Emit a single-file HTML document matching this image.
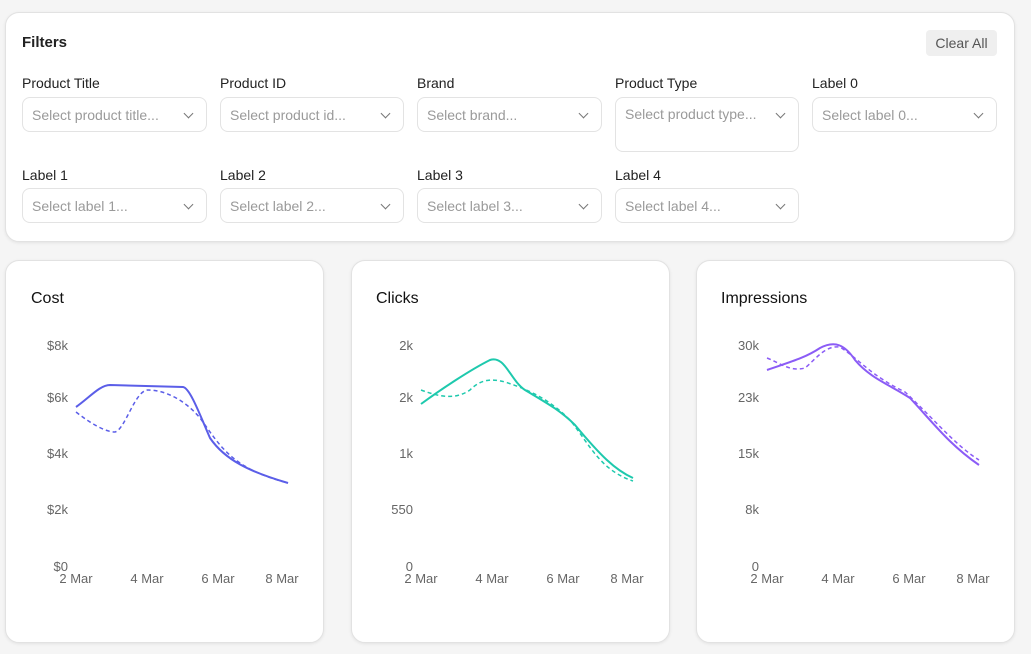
<!DOCTYPE html>
<html><head><style>
*{box-sizing:border-box;margin:0;padding:0}
body{width:1031px;height:654px;background:#f5f5f5;font-family:"Liberation Sans",sans-serif;position:relative;overflow:hidden;color:#222}
.card{position:absolute;background:#fff;border:1px solid #e2e2e2;border-radius:14px;box-shadow:0 1px 3px rgba(0,0,0,.08)}
.t{position:absolute;font-size:14px;color:#222}
.sel{position:absolute;height:35px;border:1px solid #e3e3e3;border-radius:8px;font-size:14px;color:#9a9a9a;padding:9px 0 0 9px}
.sel:after{content:"";position:absolute;right:14px;top:12px;width:6px;height:6px;border-right:1.3px solid #777;border-bottom:1.3px solid #777;transform:rotate(45deg)}
.h{position:absolute;font-size:16px;color:#111}
svg text{font-family:"Liberation Sans",sans-serif;font-size:13px;fill:#666}
</style></head><body>
<div class="card" style="left:5px;top:12px;width:1010px;height:230px"></div>
<div class="h" style="left:22px;top:34px;font-size:15px;font-weight:bold;color:#222">Filters</div>
<div style="position:absolute;left:926px;top:30px;width:71px;height:26px;background:#efefef;border-radius:4px;font-size:14px;color:#555;padding-top:5px;text-align:center">Clear All</div>
<div class="t" style="left:22px;top:75px">Product Title</div>
<div class="t" style="left:220px;top:75px">Product ID</div>
<div class="t" style="left:417px;top:75px">Brand</div>
<div class="t" style="left:615px;top:75px">Product Type</div>
<div class="t" style="left:812px;top:75px">Label 0</div>
<div class="sel" style="left:22px;top:97px;width:185px">Select product title...</div>
<div class="sel" style="left:220px;top:97px;width:184px">Select product id...</div>
<div class="sel" style="left:417px;top:97px;width:185px">Select brand...</div>
<div class="sel" style="left:615px;top:97px;width:184px;height:55px;padding-top:8px">Select product type...</div>
<div class="sel" style="left:812px;top:97px;width:185px">Select label 0...</div>
<div class="t" style="left:22px;top:167px">Label 1</div>
<div class="t" style="left:220px;top:167px">Label 2</div>
<div class="t" style="left:417px;top:167px">Label 3</div>
<div class="t" style="left:615px;top:167px">Label 4</div>
<div class="sel" style="left:22px;top:188px;width:185px">Select label 1...</div>
<div class="sel" style="left:220px;top:188px;width:184px">Select label 2...</div>
<div class="sel" style="left:417px;top:188px;width:185px">Select label 3...</div>
<div class="sel" style="left:615px;top:188px;width:184px">Select label 4...</div>

<div class="card" style="left:5px;top:260px;width:319px;height:383px"></div>
<div class="card" style="left:351px;top:260px;width:319px;height:383px"></div>
<div class="card" style="left:696px;top:260px;width:319px;height:383px"></div>
<div class="h" style="left:31px;top:290px">Cost</div>
<div class="h" style="left:376px;top:290px">Clicks</div>
<div class="h" style="left:721px;top:290px">Impressions</div>
<svg width="1031" height="654" style="position:absolute;left:0;top:0">
<g text-anchor="end">
<text x="68" y="350">$8k</text><text x="68" y="402">$6k</text><text x="68" y="458">$4k</text><text x="68" y="514">$2k</text><text x="68" y="571">$0</text>
<text x="413" y="350">2k</text><text x="413" y="402">2k</text><text x="413" y="458">1k</text><text x="413" y="514">550</text><text x="413" y="571">0</text>
<text x="759" y="350">30k</text><text x="759" y="402">23k</text><text x="759" y="458">15k</text><text x="759" y="514">8k</text><text x="759" y="571">0</text>
</g>
<g text-anchor="middle">
<text x="76" y="583">2 Mar</text><text x="147" y="583">4 Mar</text><text x="218" y="583">6 Mar</text><text x="282" y="583">8 Mar</text>
<text x="421" y="583">2 Mar</text><text x="492" y="583">4 Mar</text><text x="563" y="583">6 Mar</text><text x="627" y="583">8 Mar</text>
<text x="767" y="583">2 Mar</text><text x="838" y="583">4 Mar</text><text x="909" y="583">6 Mar</text><text x="973" y="583">8 Mar</text>
</g>
<g fill="none" stroke-width="2">
<path stroke="#5b5ee8" d="M76,407 C90,397 100,385 110,385 L183,387 C190,388 200,415 210,438 C225,460 250,472 288,483"/>
<path stroke="#5b5ee8" stroke-width="1.5" stroke-dasharray="4,3" d="M76,412 C90,423 105,432 115,432 C125,430 135,390 148,390 C165,390 185,400 200,418 C220,445 230,468 288,483"/>
<path stroke="#1ec9ad" d="M421,404 C440,390 470,370 490,360 C505,355 510,380 525,390 C545,402 560,410 575,425 C600,455 615,470 633,478"/>
<path stroke="#1ec9ad" stroke-width="1.5" stroke-dasharray="4,3" d="M421,390 C440,397 455,400 470,390 C480,380 490,378 505,382 C530,390 550,400 570,420 C590,445 600,470 633,481"/>
<path stroke="#8b5cf6" d="M767,370 C790,362 805,358 820,348 C835,340 845,345 855,360 C870,378 890,385 910,398 C935,425 950,445 979,465"/>
<path stroke="#8b5cf6" stroke-width="1.5" stroke-dasharray="4,3" d="M767,358 C780,363 790,372 805,368 C815,360 825,345 840,347 C860,360 870,375 905,392 C935,420 955,445 979,460"/>
</g>
</svg>
</body></html>
